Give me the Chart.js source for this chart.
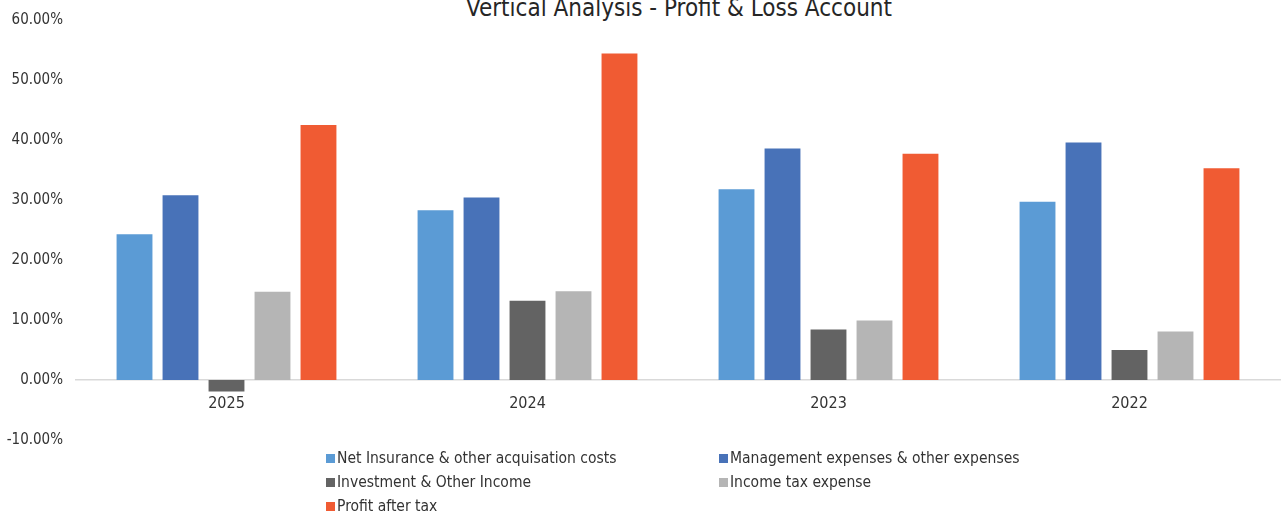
<!DOCTYPE html>
<html>
<head>
<meta charset="utf-8">
<script src="https://cdn.jsdelivr.net/npm/chart.js@4"></script>
<style>
  html, body { margin: 0; padding: 0; background: #fff; }
  body { width: 1284px; height: 517px; position: relative; overflow: hidden;
         font-family: "Liberation Sans Narrow", "DejaVu Sans Condensed", Roboto, sans-serif; color: #333; }
  #title { position: absolute; left: 0; width: 1358px; top: -6px; text-align: center;
           font-size: 24px; line-height: 28px; color: #262626; }
  #box { position: absolute; left: 0; top: -2px; width: 1284px; height: 464px; }
  #legend { position: absolute; left: 326px; top: 446px; display: grid;
            grid-template-columns: 393px 393px; row-gap: 0; font-size: 15.5px; }
  #legend div { height: 24px; line-height: 24px; white-space: nowrap; color: #333; }
  #legend span { display: inline-block; width: 9px; height: 9px; margin-right: 2px; vertical-align: 0px; }
</style>
</head>
<body>
<div id="title">Vertical Analysis - Profit &amp; Loss Account</div>
<div id="box"><canvas id="myChart"></canvas></div>
<div id="legend"></div>
<script>
// categories along the x-axis
let years = ['2025', '2024', '2023', '2022'];
// series values, in percent
let netInsurance = [24.3, 28.3, 31.8, 29.7];
let management = [30.8, 30.4, 38.6, 39.6];
let investment = [-1.9, 13.2, 8.4, 5.0];
let incomeTax = [14.7, 14.8, 9.9, 8.1];
let profitAfterTax = [42.5, 54.4, 37.7, 35.3];
// y-axis range
let yMin = -10, yMax = 60, yStep = 10;

const font = '"Liberation Sans Narrow", "DejaVu Sans Condensed", Roboto, sans-serif';

function renderChart(){
  let ctx = document.getElementById('myChart');
  let chart = new Chart(ctx, {
    type: 'bar',
    data: {
      labels: years,
      datasets: [
        { label: 'Net Insurance & other acquisation costs', data: netInsurance, backgroundColor: '#5B9BD5' },
        { label: 'Management expenses & other expenses', data: management, backgroundColor: '#4872B8' },
        { label: 'Investment & Other Income', data: investment, backgroundColor: '#636363' },
        { label: 'Income tax expense', data: incomeTax, backgroundColor: '#B5B5B5' },
        { label: 'Profit after tax', data: profitAfterTax, backgroundColor: '#F05B33' }
      ]
    },
    options: {
      responsive: true,
      maintainAspectRatio: false,
      animation: false,
      categoryPercentage: 0.764,
      barPercentage: 0.78,
      layout: { padding: { top: 13, bottom: 12, left: 0, right: 4 } },
      plugins: {
        legend: { display: false },
        title: { display: false },
        tooltip: { enabled: false }
      },
      scales: {
        x: {
          position: { y: 0 },
          grid: { display: false, drawTicks: false },
          border: { display: true, color: '#D9D9D9', width: 1.5 },
          ticks: { color: '#333', padding: 14, font: { family: font, size: 16 } }
        },
        y: {
          min: yMin,
          max: yMax,
          grid: { display: false, drawTicks: false },
          border: { display: false },
          afterFit: function(scale){ scale.width = 76; },
          ticks: {
            stepSize: yStep,
            padding: 13,
            color: '#333',
            font: { family: font, size: 15 },
            callback: function(v){ return v.toFixed(2) + '%'; }
          }
        }
      }
    }
  });

  // legend in two columns, built from the datasets
  let legend = document.getElementById('legend');
  chart.data.datasets.forEach(function(ds){
    let item = document.createElement('div');
    let sw = document.createElement('span');
    sw.style.background = ds.backgroundColor;
    item.appendChild(sw);
    item.appendChild(document.createTextNode(ds.label));
    legend.appendChild(item);
  });
}

renderChart();
</script>
</body>
</html>
